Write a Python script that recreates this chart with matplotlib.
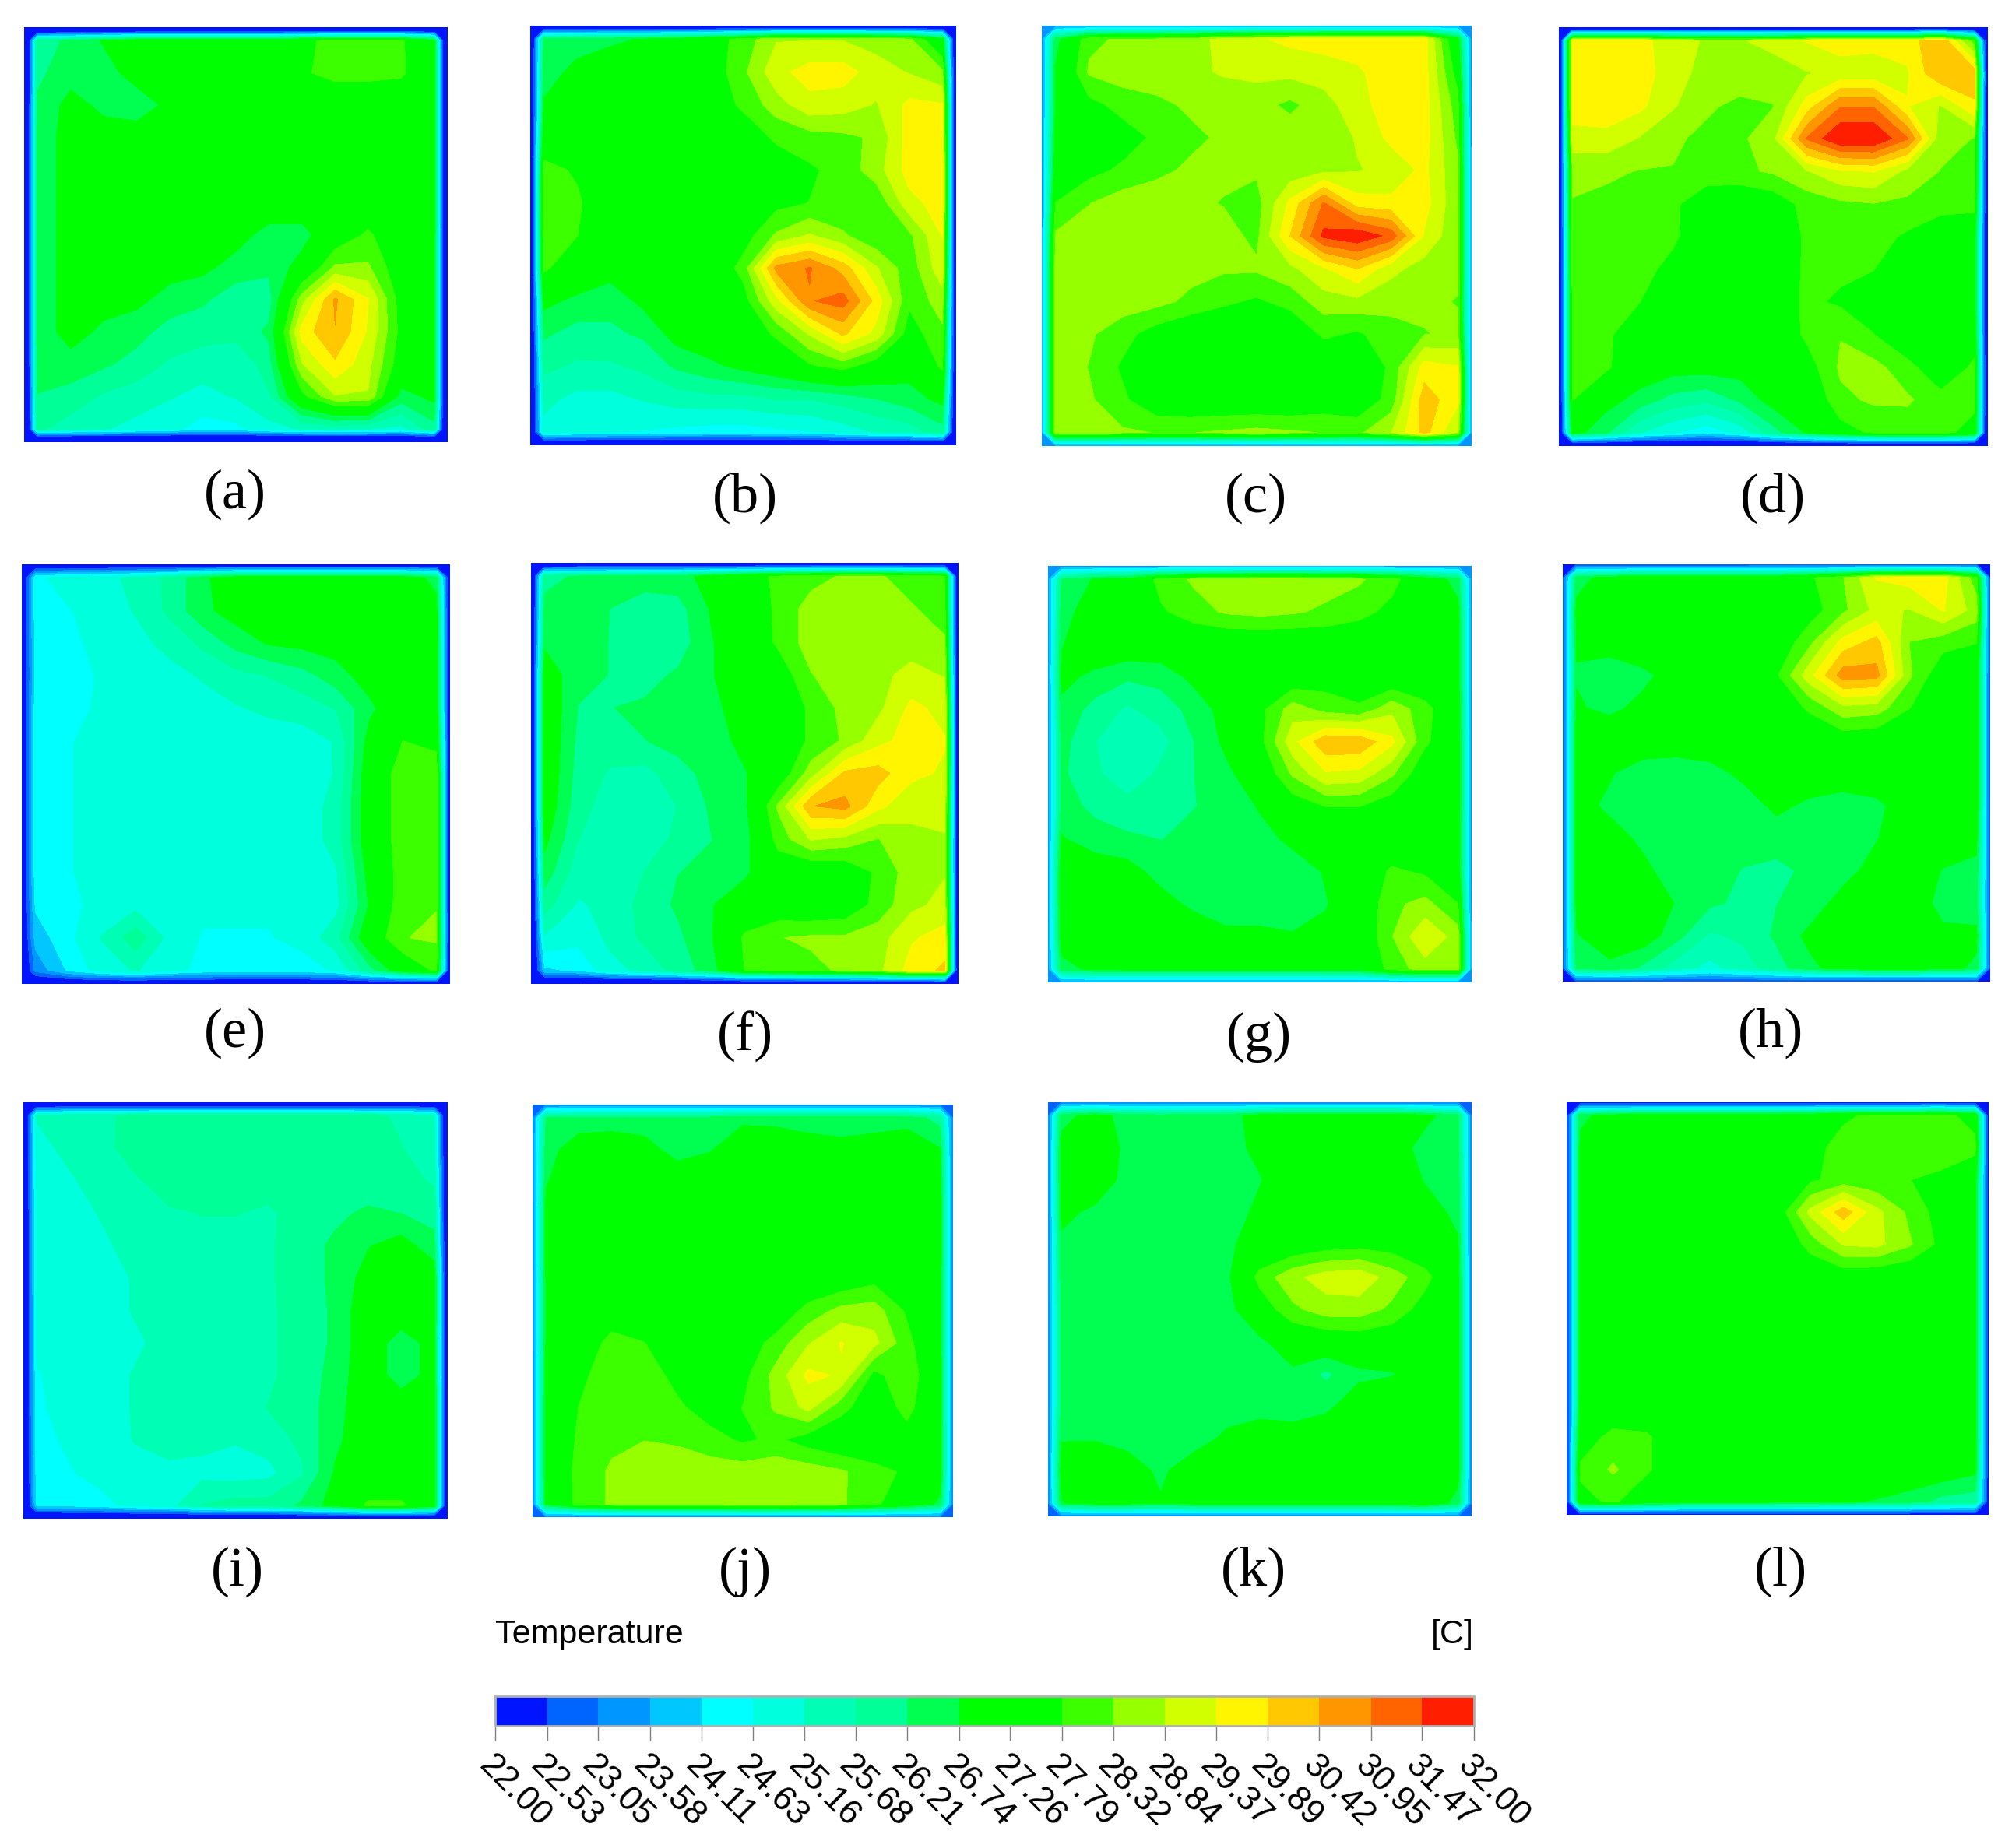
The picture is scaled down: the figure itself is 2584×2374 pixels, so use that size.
import numpy as np
import matplotlib
matplotlib.use('Agg')
import matplotlib.pyplot as plt
from matplotlib.colors import ListedColormap, BoundaryNorm

# temperature, rows go top to bottom, wall layer is added later
panel_a = [
    [26.0, 26.3, 26.8, 27.2, 27.2, 27.2, 27.2, 27.2, 27.7, 27.9, 27.9, 27.9, 26.9],
    [26.1, 26.5, 26.5, 27.0, 27.2, 27.2, 27.2, 27.3, 27.7, 28.0, 28.0, 27.9, 27.0],
    [26.3, 26.95, 26.6, 26.4, 26.9, 27.2, 27.2, 27.2, 27.2, 27.2, 27.2, 27.2, 27.0],
    [26.4, 27.0, 27.0, 27.1, 27.2, 27.2, 27.2, 27.2, 27.2, 27.2, 27.2, 27.2, 27.0],
    [26.4, 27.0, 27.2, 27.2, 27.2, 27.2, 27.2, 27.2, 27.2, 27.2, 27.2, 27.2, 27.0],
    [26.4, 27.0, 27.2, 27.2, 27.2, 27.2, 27.2, 27.2, 27.2, 27.2, 27.2, 27.2, 27.0],
    [26.4, 27.0, 27.1, 27.1, 27.1, 27.1, 27.0, 26.5, 26.5, 27.3, 27.9, 27.2, 26.9],
    [26.4, 27.0, 27.0, 27.0, 27.0, 26.9, 26.5, 26.3, 27.0, 28.4, 28.4, 27.3, 26.9],
    [26.4, 27.0, 27.0, 26.9, 26.5, 26.3, 25.9, 26.0, 28.6, 30.5, 29.4, 27.5, 26.9],
    [26.4, 27.0, 26.6, 26.4, 26.0, 25.9, 25.9, 26.3, 29.6, 30.4, 29.3, 27.6, 26.9],
    [26.3, 26.5, 26.3, 26.0, 25.6, 25.4, 25.2, 26.0, 28.8, 29.8, 29.0, 27.4, 26.9],
    [26.2, 26.0, 25.6, 25.4, 25.2, 25.0, 25.2, 25.6, 27.6, 28.8, 28.8, 26.5, 26.9],
    [25.8, 25.4, 25.2, 25.0, 24.8, 24.4, 24.5, 25.0, 25.2, 25.3, 25.2, 25.0, 26.0],
]
panel_b = [
    [26.3, 26.5, 26.6, 26.8, 27.1, 27.5, 28.0, 28.8, 28.8, 28.8, 28.6, 28.4, 27.0],
    [26.5, 26.9, 27.2, 27.2, 27.2, 27.4, 28.2, 29.2, 29.6, 29.6, 29.1, 28.8, 28.4],
    [26.8, 27.0, 27.2, 27.2, 27.2, 27.4, 27.9, 28.6, 29.2, 29.1, 28.8, 29.5, 29.4],
    [27.3, 27.1, 27.2, 27.2, 27.2, 27.2, 27.4, 27.9, 28.1, 28.2, 28.4, 29.6, 29.5],
    [28.0, 27.7, 27.2, 27.2, 27.2, 27.2, 27.3, 27.4, 27.7, 28.0, 28.6, 29.6, 29.6],
    [28.1, 27.9, 27.2, 27.2, 27.2, 27.2, 27.3, 27.6, 27.8, 27.9, 27.9, 29.2, 29.6],
    [28.0, 27.8, 27.2, 27.2, 27.2, 27.2, 27.5, 28.4, 28.9, 28.4, 27.9, 28.2, 29.4],
    [27.9, 27.3, 27.0, 27.1, 27.2, 27.2, 28.0, 30.6, 31.0, 30.2, 28.9, 28.0, 29.2],
    [26.9, 26.6, 26.4, 26.9, 27.2, 27.2, 27.5, 29.2, 30.9, 31.2, 29.7, 27.9, 28.6],
    [26.3, 26.0, 26.1, 26.3, 27.0, 27.2, 27.3, 27.9, 28.9, 30.0, 29.2, 27.5, 28.2],
    [25.8, 25.6, 25.6, 25.8, 26.3, 26.6, 26.9, 27.2, 27.7, 28.0, 27.4, 27.0, 27.9],
    [25.3, 25.0, 25.0, 25.2, 25.4, 25.5, 25.5, 25.7, 25.7, 25.9, 26.2, 26.5, 26.9],
    [25.0, 24.8, 24.7, 24.6, 24.5, 24.4, 24.4, 24.5, 24.6, 24.9, 25.2, 25.4, 26.0],
]
panel_c = [
    [26.5, 28.2, 28.4, 28.4, 28.6, 29.0, 29.3, 29.5, 29.6, 29.6, 29.6, 29.6, 27.0],
    [26.8, 28.4, 28.6, 28.6, 28.7, 28.9, 29.0, 29.0, 29.1, 29.3, 29.6, 29.6, 27.5],
    [26.8, 27.6, 28.0, 28.2, 28.4, 28.5, 28.5, 28.2, 28.6, 29.2, 29.6, 29.6, 28.0],
    [27.0, 27.2, 27.5, 27.9, 28.2, 28.4, 28.6, 28.6, 28.4, 28.9, 29.5, 29.6, 28.2],
    [27.2, 27.6, 27.9, 28.2, 28.4, 28.4, 28.4, 28.5, 28.7, 28.8, 29.0, 29.5, 28.4],
    [27.8, 28.3, 28.6, 28.6, 28.4, 28.3, 28.1, 29.5, 31.0, 29.6, 29.5, 29.6, 28.4],
    [28.4, 28.6, 28.6, 28.6, 28.6, 28.5, 28.2, 29.9, 31.6, 31.9, 31.3, 29.3, 28.4],
    [28.6, 28.6, 28.6, 28.6, 28.5, 28.4, 28.4, 28.7, 29.3, 29.9, 29.0, 28.6, 28.4],
    [28.6, 28.7, 28.6, 28.5, 28.2, 27.9, 27.7, 28.0, 28.6, 28.7, 28.5, 28.4, 28.3],
    [28.6, 28.4, 28.0, 27.5, 27.2, 27.2, 27.3, 27.2, 27.9, 27.7, 28.1, 28.3, 28.4],
    [28.6, 28.3, 27.7, 27.2, 27.2, 27.2, 27.2, 27.2, 27.2, 27.2, 27.9, 29.6, 29.4],
    [28.6, 28.4, 27.9, 27.3, 27.2, 27.2, 27.2, 27.2, 27.4, 27.3, 28.0, 30.2, 29.5],
    [28.6, 28.6, 28.4, 28.3, 28.3, 28.4, 28.5, 28.4, 28.3, 28.2, 28.8, 30.1, 28.8],
]
panel_d = [
    [29.6, 29.6, 29.6, 29.0, 28.8, 28.8, 29.0, 29.4, 29.7, 29.6, 29.6, 30.4, 28.0],
    [29.6, 29.7, 29.7, 29.0, 28.7, 28.6, 28.6, 28.8, 29.0, 29.0, 29.3, 30.4, 30.2],
    [29.6, 29.7, 29.5, 28.9, 28.4, 28.2, 28.3, 29.6, 30.9, 30.9, 29.4, 28.8, 29.8],
    [29.2, 29.2, 28.8, 28.4, 28.2, 28.2, 28.7, 31.0, 32.0, 32.0, 31.0, 28.5, 28.3],
    [28.4, 28.4, 28.3, 28.3, 28.1, 28.2, 28.4, 28.8, 29.3, 29.4, 28.7, 28.3, 28.2],
    [28.3, 28.2, 28.1, 27.9, 27.4, 27.2, 27.4, 28.0, 28.2, 28.3, 28.2, 28.1, 28.0],
    [28.2, 28.2, 28.0, 27.9, 27.3, 27.2, 27.2, 27.9, 28.1, 28.0, 27.7, 27.2, 27.2],
    [28.1, 28.0, 28.0, 27.6, 27.2, 27.2, 27.3, 27.9, 27.9, 27.8, 27.3, 27.2, 27.2],
    [28.0, 27.9, 27.8, 27.2, 27.2, 27.2, 27.4, 27.9, 27.7, 27.5, 27.2, 27.2, 27.2],
    [28.0, 27.9, 27.4, 27.2, 27.2, 27.2, 27.3, 27.9, 28.3, 27.8, 27.2, 27.2, 27.5],
    [28.0, 27.9, 27.2, 27.0, 27.0, 27.0, 27.2, 27.5, 28.4, 28.5, 28.0, 27.3, 27.9],
    [27.8, 27.0, 26.5, 26.0, 25.8, 26.3, 27.0, 27.1, 28.2, 28.4, 28.4, 28.0, 28.0],
    [27.0, 26.3, 25.2, 24.7, 24.3, 24.8, 26.0, 26.8, 27.5, 27.9, 28.0, 28.0, 27.5],
]
panel_e = [
    [24.5, 24.9, 25.0, 25.3, 25.8, 26.6, 27.2, 27.2, 27.2, 27.2, 27.2, 27.2, 26.5],
    [24.4, 24.6, 24.9, 25.2, 25.8, 26.6, 27.0, 27.2, 27.2, 27.2, 27.2, 27.2, 27.0],
    [24.3, 24.5, 24.8, 25.0, 25.3, 25.8, 26.4, 26.8, 26.9, 27.0, 27.2, 27.2, 27.2],
    [24.2, 24.4, 24.7, 24.8, 25.0, 25.2, 25.5, 25.7, 26.0, 26.5, 27.0, 27.2, 27.2],
    [24.4, 24.5, 24.7, 24.8, 24.8, 25.0, 25.1, 25.3, 25.4, 25.7, 26.6, 27.3, 27.2],
    [24.4, 24.6, 24.8, 24.8, 24.8, 24.8, 24.8, 24.8, 24.9, 25.2, 27.0, 27.8, 27.6],
    [24.4, 24.6, 24.8, 24.8, 24.8, 24.8, 24.8, 24.8, 24.8, 25.2, 27.2, 28.1, 28.2],
    [24.4, 24.6, 24.8, 24.8, 24.8, 24.8, 24.8, 24.8, 24.8, 25.4, 27.2, 28.1, 28.2],
    [24.4, 24.6, 24.8, 24.8, 24.8, 24.8, 24.8, 24.8, 24.8, 25.4, 27.2, 28.1, 28.2],
    [24.4, 24.6, 24.8, 24.8, 24.8, 24.8, 24.8, 24.8, 24.8, 25.1, 27.0, 28.1, 28.3],
    [24.2, 24.5, 24.8, 25.0, 24.8, 24.7, 24.7, 24.7, 24.7, 25.0, 26.8, 28.2, 28.3],
    [23.8, 24.5, 25.2, 26.0, 25.0, 24.6, 24.6, 24.6, 24.8, 25.5, 27.3, 28.3, 28.4],
    [23.2, 24.2, 24.9, 25.2, 24.8, 24.5, 24.4, 24.4, 24.4, 24.7, 26.0, 27.2, 27.9],
]
panel_f = [
    [26.0, 26.3, 26.4, 26.4, 26.5, 27.0, 27.5, 27.9, 28.1, 28.4, 28.4, 28.0, 27.9],
    [26.4, 26.4, 26.2, 26.0, 26.0, 26.8, 27.3, 27.9, 28.6, 28.8, 28.7, 28.4, 28.0],
    [26.6, 26.3, 26.2, 25.8, 25.9, 26.7, 27.2, 27.9, 28.6, 28.7, 28.7, 28.6, 28.4],
    [27.2, 26.3, 26.2, 26.0, 26.3, 26.7, 27.2, 27.4, 28.3, 28.6, 28.7, 29.0, 28.8],
    [27.3, 26.2, 26.2, 26.3, 26.4, 26.5, 27.2, 27.3, 27.9, 28.5, 28.7, 29.5, 29.2],
    [27.3, 26.1, 26.0, 26.2, 26.4, 26.5, 26.9, 27.3, 27.9, 28.4, 29.2, 29.6, 29.4],
    [27.3, 26.0, 25.6, 25.5, 26.0, 26.4, 26.7, 27.3, 28.6, 30.0, 30.1, 29.5, 29.3],
    [27.2, 25.9, 25.4, 25.3, 25.7, 26.3, 26.6, 28.4, 30.4, 30.6, 29.5, 29.0, 29.0],
    [26.9, 25.7, 25.3, 25.4, 25.8, 26.2, 26.5, 28.0, 28.9, 28.7, 28.3, 28.7, 28.8],
    [26.5, 25.4, 25.2, 25.7, 26.2, 26.3, 26.6, 27.4, 27.2, 27.3, 27.9, 28.6, 28.8],
    [25.9, 25.1, 25.3, 25.9, 26.3, 26.7, 27.2, 27.3, 27.2, 27.3, 28.0, 28.7, 29.0],
    [25.1, 24.8, 25.3, 25.8, 26.1, 26.7, 27.9, 28.3, 28.4, 28.4, 28.6, 29.3, 29.6],
    [24.0, 24.2, 25.0, 25.3, 25.9, 26.5, 27.8, 28.0, 28.2, 28.4, 28.7, 29.6, 30.0],
]
panel_g = [
    [26.2, 26.8, 27.0, 28.0, 28.4, 28.6, 28.7, 28.7, 28.6, 28.4, 28.0, 27.2, 26.5],
    [26.5, 27.1, 27.2, 27.7, 28.1, 28.4, 28.5, 28.4, 28.2, 28.0, 27.6, 27.2, 26.9],
    [26.7, 27.2, 27.2, 27.2, 27.2, 27.2, 27.2, 27.2, 27.3, 27.2, 27.2, 27.2, 27.0],
    [26.9, 26.6, 26.3, 26.4, 26.9, 27.1, 27.2, 27.3, 27.5, 27.3, 27.2, 27.2, 27.0],
    [26.6, 26.0, 25.6, 25.9, 26.4, 27.0, 27.6, 28.6, 28.1, 27.9, 28.7, 28.0, 27.1],
    [26.4, 25.7, 25.2, 25.5, 26.2, 26.9, 27.6, 29.2, 30.3, 30.3, 29.5, 27.9, 27.2],
    [26.3, 25.8, 25.3, 25.8, 26.2, 26.6, 27.2, 28.4, 29.3, 29.2, 28.4, 27.3, 27.2],
    [26.4, 26.1, 25.9, 26.0, 26.2, 26.3, 26.8, 27.4, 27.8, 27.8, 27.4, 27.2, 27.2],
    [26.8, 26.4, 26.3, 26.2, 26.3, 26.3, 26.5, 26.9, 27.2, 27.2, 27.2, 27.2, 27.1],
    [27.2, 27.2, 27.0, 26.5, 26.3, 26.4, 26.4, 26.4, 26.8, 27.2, 27.9, 27.7, 27.2],
    [27.2, 27.2, 27.2, 27.0, 26.6, 26.4, 26.4, 26.4, 26.7, 27.2, 28.2, 28.5, 27.8],
    [27.1, 27.2, 27.2, 27.2, 27.2, 26.9, 26.9, 26.8, 26.9, 27.2, 28.3, 29.3, 28.6],
    [26.5, 26.9, 27.0, 27.0, 27.0, 27.0, 27.0, 27.0, 27.0, 27.1, 28.0, 28.6, 28.6],
]
panel_h = [
    [26.5, 27.0, 27.2, 27.2, 27.2, 27.2, 27.3, 27.7, 28.3, 29.4, 29.6, 29.6, 28.0],
    [26.9, 27.2, 27.2, 27.2, 27.2, 27.2, 27.3, 27.5, 28.2, 29.0, 28.8, 29.4, 28.6],
    [26.8, 27.0, 27.2, 27.2, 27.2, 27.2, 27.3, 28.2, 29.6, 30.1, 28.3, 28.0, 27.8],
    [26.7, 26.4, 26.6, 27.0, 27.2, 27.2, 27.7, 29.2, 30.7, 30.6, 28.4, 27.3, 27.2],
    [26.8, 26.6, 26.9, 27.2, 27.2, 27.2, 27.3, 27.9, 28.7, 28.6, 27.8, 27.2, 27.2],
    [27.0, 27.2, 27.2, 27.2, 27.2, 27.2, 27.2, 27.2, 27.4, 27.3, 27.2, 27.2, 27.2],
    [27.0, 26.8, 26.4, 26.3, 26.5, 26.9, 27.2, 27.2, 27.2, 27.2, 27.2, 27.2, 27.2],
    [27.0, 26.6, 26.3, 26.3, 26.4, 26.4, 26.9, 26.6, 26.4, 26.6, 27.1, 27.2, 27.2],
    [26.9, 27.0, 26.6, 26.3, 26.3, 26.3, 26.4, 26.4, 26.3, 26.7, 27.2, 27.2, 26.9],
    [26.9, 27.2, 26.9, 26.4, 26.3, 26.2, 26.1, 26.3, 26.5, 27.0, 27.2, 26.7, 26.6],
    [26.9, 27.2, 27.2, 26.7, 26.3, 26.1, 26.2, 26.4, 27.0, 27.2, 27.2, 26.5, 26.4],
    [26.7, 27.1, 27.1, 26.4, 25.6, 25.8, 26.3, 26.9, 27.2, 27.2, 27.2, 26.9, 26.9],
    [26.3, 26.6, 26.1, 25.4, 25.0, 25.4, 26.0, 26.6, 27.0, 27.1, 27.1, 27.0, 26.6],
]
panel_i = [
    [25.2, 25.5, 25.6, 25.8, 25.9, 25.9, 25.9, 25.9, 25.9, 25.9, 25.8, 25.6, 25.2],
    [25.0, 25.3, 25.5, 26.0, 26.2, 26.2, 26.2, 26.1, 26.0, 26.0, 25.9, 25.7, 25.4],
    [24.9, 25.1, 25.4, 25.6, 26.0, 26.2, 26.0, 25.9, 25.8, 25.8, 25.9, 25.9, 25.6],
    [24.8, 25.0, 25.2, 25.4, 25.6, 25.7, 25.7, 25.6, 25.9, 26.1, 26.3, 26.2, 26.0],
    [24.8, 24.9, 25.1, 25.3, 25.4, 25.5, 25.5, 25.6, 26.0, 26.3, 26.7, 27.0, 26.4],
    [24.8, 24.9, 25.0, 25.2, 25.4, 25.4, 25.4, 25.6, 26.0, 26.3, 27.0, 27.3, 27.1],
    [24.7, 24.8, 25.0, 25.2, 25.3, 25.4, 25.4, 25.6, 25.9, 26.3, 27.2, 27.2, 27.1],
    [24.7, 24.8, 24.9, 25.1, 25.3, 25.4, 25.5, 25.6, 25.9, 26.3, 27.2, 26.4, 27.0],
    [24.6, 24.8, 25.0, 25.2, 25.4, 25.4, 25.5, 25.6, 25.9, 26.4, 27.2, 26.4, 27.0],
    [24.6, 24.7, 25.0, 25.2, 25.4, 25.5, 25.5, 25.7, 25.9, 26.5, 27.2, 27.2, 27.2],
    [24.5, 24.7, 24.9, 25.2, 25.4, 25.3, 25.2, 25.4, 25.8, 26.6, 27.2, 27.2, 27.2],
    [24.4, 24.6, 24.8, 24.9, 25.0, 25.0, 24.9, 25.0, 25.6, 26.8, 27.2, 27.2, 27.2],
    [24.2, 24.3, 24.5, 24.8, 25.0, 25.7, 25.9, 25.9, 26.3, 27.0, 27.9, 27.9, 27.2],
]
panel_j = [
    [26.2, 26.4, 26.4, 26.4, 26.4, 26.4, 26.6, 26.6, 26.5, 26.5, 26.5, 26.5, 26.0],
    [26.5, 27.1, 27.2, 27.0, 26.5, 26.7, 27.2, 27.1, 27.0, 26.9, 27.0, 27.2, 26.8],
    [26.7, 27.2, 27.2, 27.2, 27.2, 27.2, 27.2, 27.2, 27.2, 27.2, 27.2, 27.2, 27.0],
    [26.9, 27.2, 27.2, 27.2, 27.2, 27.2, 27.2, 27.2, 27.2, 27.2, 27.2, 27.2, 27.1],
    [26.9, 27.2, 27.2, 27.2, 27.2, 27.2, 27.2, 27.2, 27.2, 27.2, 27.2, 27.2, 27.1],
    [26.8, 27.2, 27.2, 27.2, 27.2, 27.2, 27.2, 27.2, 27.2, 27.3, 27.6, 27.2, 27.0],
    [26.8, 27.2, 27.4, 27.4, 27.2, 27.2, 27.2, 27.3, 28.0, 28.5, 28.6, 27.7, 27.0],
    [26.8, 27.3, 28.0, 27.8, 27.3, 27.2, 27.4, 28.0, 28.8, 29.4, 29.0, 28.0, 27.0],
    [26.9, 27.6, 28.2, 28.1, 27.6, 27.3, 27.6, 28.5, 29.5, 29.3, 27.6, 28.2, 27.1],
    [27.0, 27.8, 28.2, 28.2, 27.9, 27.5, 27.8, 28.4, 29.0, 28.0, 27.3, 28.0, 27.1],
    [27.0, 27.9, 28.2, 28.3, 28.2, 28.0, 27.7, 27.9, 27.5, 27.2, 27.2, 27.5, 27.2],
    [27.0, 28.0, 28.4, 28.8, 28.8, 28.6, 28.6, 28.7, 28.6, 28.4, 28.0, 27.7, 27.2],
    [26.8, 28.0, 28.4, 28.6, 28.6, 28.6, 28.7, 28.7, 28.6, 28.4, 27.9, 27.4, 26.6],
]
panel_k = [
    [26.5, 27.0, 26.5, 26.4, 26.5, 26.5, 27.0, 27.2, 27.2, 27.2, 27.2, 26.9, 26.4],
    [27.0, 27.2, 26.6, 26.4, 26.4, 26.5, 26.9, 27.2, 27.2, 27.2, 27.1, 26.5, 26.4],
    [27.0, 27.2, 26.5, 26.4, 26.4, 26.4, 26.7, 27.2, 27.2, 27.2, 27.2, 26.7, 26.5],
    [26.9, 26.6, 26.4, 26.4, 26.4, 26.4, 26.9, 27.2, 27.2, 27.2, 27.2, 27.0, 26.6],
    [26.6, 26.4, 26.4, 26.4, 26.4, 26.6, 27.1, 27.3, 27.5, 27.6, 27.5, 27.2, 26.8],
    [26.5, 26.4, 26.4, 26.4, 26.4, 26.6, 28.0, 28.7, 29.1, 29.2, 28.6, 28.0, 27.0],
    [26.4, 26.4, 26.4, 26.4, 26.4, 26.5, 27.4, 28.2, 28.6, 28.6, 28.2, 27.5, 27.0],
    [26.4, 26.4, 26.4, 26.4, 26.4, 26.4, 26.6, 27.2, 27.3, 27.4, 27.3, 27.3, 27.0],
    [26.4, 26.4, 26.4, 26.4, 26.4, 26.4, 26.6, 26.6, 26.1, 26.6, 26.7, 27.0, 27.0],
    [26.4, 26.4, 26.3, 26.3, 26.3, 26.4, 26.5, 26.4, 26.6, 27.1, 27.2, 27.2, 27.0],
    [26.7, 26.7, 26.5, 26.4, 26.4, 26.9, 27.1, 27.1, 27.2, 27.2, 27.2, 27.2, 27.0],
    [27.1, 27.2, 27.1, 26.6, 27.2, 27.2, 27.2, 27.2, 27.2, 27.2, 27.2, 27.2, 27.0],
    [26.7, 27.0, 27.0, 26.8, 27.0, 27.0, 27.0, 27.0, 27.0, 27.0, 27.1, 27.3, 26.5],
]
panel_l = [
    [26.6, 27.0, 27.2, 27.2, 27.2, 27.2, 27.2, 27.3, 27.7, 27.9, 27.9, 28.0, 27.5],
    [26.9, 27.2, 27.2, 27.2, 27.2, 27.2, 27.2, 27.6, 28.0, 28.0, 28.1, 28.2, 28.0],
    [26.9, 27.2, 27.2, 27.2, 27.2, 27.2, 27.3, 27.7, 28.0, 27.9, 27.8, 27.6, 27.1],
    [26.9, 27.2, 27.2, 27.2, 27.2, 27.2, 27.4, 29.0, 30.2, 29.0, 28.2, 27.5, 27.0],
    [26.9, 27.2, 27.2, 27.2, 27.2, 27.2, 27.2, 28.0, 28.9, 29.0, 28.4, 27.6, 27.0],
    [26.9, 27.2, 27.2, 27.2, 27.2, 27.2, 27.2, 27.3, 27.4, 27.3, 27.2, 27.2, 27.0],
    [26.9, 27.2, 27.2, 27.2, 27.2, 27.2, 27.2, 27.2, 27.2, 27.2, 27.2, 27.2, 27.0],
    [26.9, 27.2, 27.2, 27.2, 27.2, 27.2, 27.2, 27.2, 27.2, 27.2, 27.2, 27.2, 27.0],
    [26.9, 27.2, 27.2, 27.2, 27.2, 27.2, 27.2, 27.2, 27.2, 27.2, 27.2, 27.2, 27.0],
    [26.9, 27.2, 27.2, 27.2, 27.2, 27.2, 27.2, 27.2, 27.2, 27.2, 27.2, 27.2, 27.0],
    [27.4, 28.0, 27.9, 27.3, 27.2, 27.2, 27.2, 27.2, 27.2, 27.2, 27.2, 27.2, 27.0],
    [27.9, 28.4, 27.9, 27.3, 27.2, 27.2, 27.2, 27.2, 27.2, 27.2, 27.2, 27.2, 26.9],
    [27.6, 27.9, 27.3, 27.1, 27.1, 27.1, 27.0, 26.9, 26.8, 26.7, 26.5, 26.0, 25.9],
]

panels = [panel_a, panel_b, panel_c, panel_d, panel_e, panel_f,
          panel_g, panel_h, panel_i, panel_j, panel_k, panel_l]
wall_temps = [20.0, 21.0, 23.3, 21.0, 21.5, 21.0, 23.3, 22.5, 21.0, 23.0, 23.0, 22.0]
panel_names = ['(a)', '(b)', '(c)', '(d)', '(e)', '(f)', '(g)', '(h)', '(i)', '(j)', '(k)', '(l)']

levels = [22.00, 22.53, 23.05, 23.58, 24.11, 24.63, 25.16, 25.68, 26.21, 26.74,
          27.26, 27.79, 28.32, 28.84, 29.37, 29.89, 30.42, 30.95, 31.47, 32.00]
level_labels = ['22.00', '22.53', '23.05', '23.58', '24.11', '24.63', '25.16', '25.68',
                '26.21', '26.74', '27.26', '27.79', '28.32', '28.84', '29.37', '29.89',
                '30.42', '30.95', '31.47', '32.00']
level_colors = ['#0014ff', '#0064ff', '#0096ff', '#00c8ff', '#00ffff', '#00ffdc', '#00ffb4',
                '#00ff96', '#00ff50', '#00ff00', '#00ff00', '#3cff00', '#96ff00', '#d2ff00',
                '#fff500', '#ffc800', '#ff9600', '#ff6400', '#ff1e00']

# pixel boxes of the panels in the full size picture: left, right, top, bottom
boxes = [(31, 575, 35, 568), (681, 1228, 33, 572), (1338, 1890, 33, 573), (2002, 2553, 35, 573),
         (28, 578, 725, 1264), (682, 1231, 723, 1264), (1346, 1890, 727, 1262), (2007, 2556, 725, 1261),
         (30, 575, 1416, 1951), (684, 1224, 1419, 1949), (1346, 1890, 1416, 1948), (2012, 2554, 1416, 1946)]
label_pos = [(302, 635), (957, 640), (1613, 640), (2277, 640),
             (302, 1327), (957, 1332), (1617, 1332), (2274, 1327),
             (305, 2019), (957, 2019), (1610, 2019), (2287, 2019)]

W, H = 2584, 2374
cmap = ListedColormap(level_colors)
norm = BoundaryNorm(levels, cmap.N)

fig = plt.figure(figsize=(W / 100, H / 100), dpi=100)


def add_box(left, right, top, bottom):
    return fig.add_axes([left / W, 1 - bottom / H, (right - left) / W, (bottom - top) / H])


inner = np.arange(13) * 0.078 + 0.032
xs = np.concatenate([[0], inner, [1]])

for i, values in enumerate(panels):
    ax = add_box(*boxes[i])
    z = np.pad(np.array(values), 1, constant_values=wall_temps[i])
    cs = ax.contourf(xs, xs, z, levels=levels, cmap=cmap, norm=norm, extend='both')
    ax.set_xlim(0, 1)
    ax.set_ylim(1, 0)
    ax.axis('off')
    fig.text(label_pos[i][0] / W, 1 - label_pos[i][1] / H, panel_names[i], family='Liberation Serif',
             fontsize=52, ha='center', va='center')

cax = add_box(636, 1893, 2179, 2217)
sm = plt.cm.ScalarMappable(norm=norm, cmap=cmap)
cbar = fig.colorbar(sm, cax=cax, orientation='horizontal', ticks=levels, spacing='proportional')
cbar.outline.set_edgecolor('#b0b0b0')
cbar.outline.set_linewidth(2)
cax.tick_params(axis='x', length=14, width=1, color='#808080', pad=8)
cax.set_xticklabels(level_labels, rotation=-45, ha='left', va='top', rotation_mode='anchor',
                    family='Liberation Sans', fontsize=32)

fig.text(636 / W, 1 - 2100 / H, 'Temperature', family='Liberation Sans', fontsize=31, ha='left', va='center')
fig.text(1893 / W, 1 - 2100 / H, '[C]', family='Liberation Sans', fontsize=31, ha='right', va='center')

fig.savefig('out.png', dpi=100, facecolor='white')
